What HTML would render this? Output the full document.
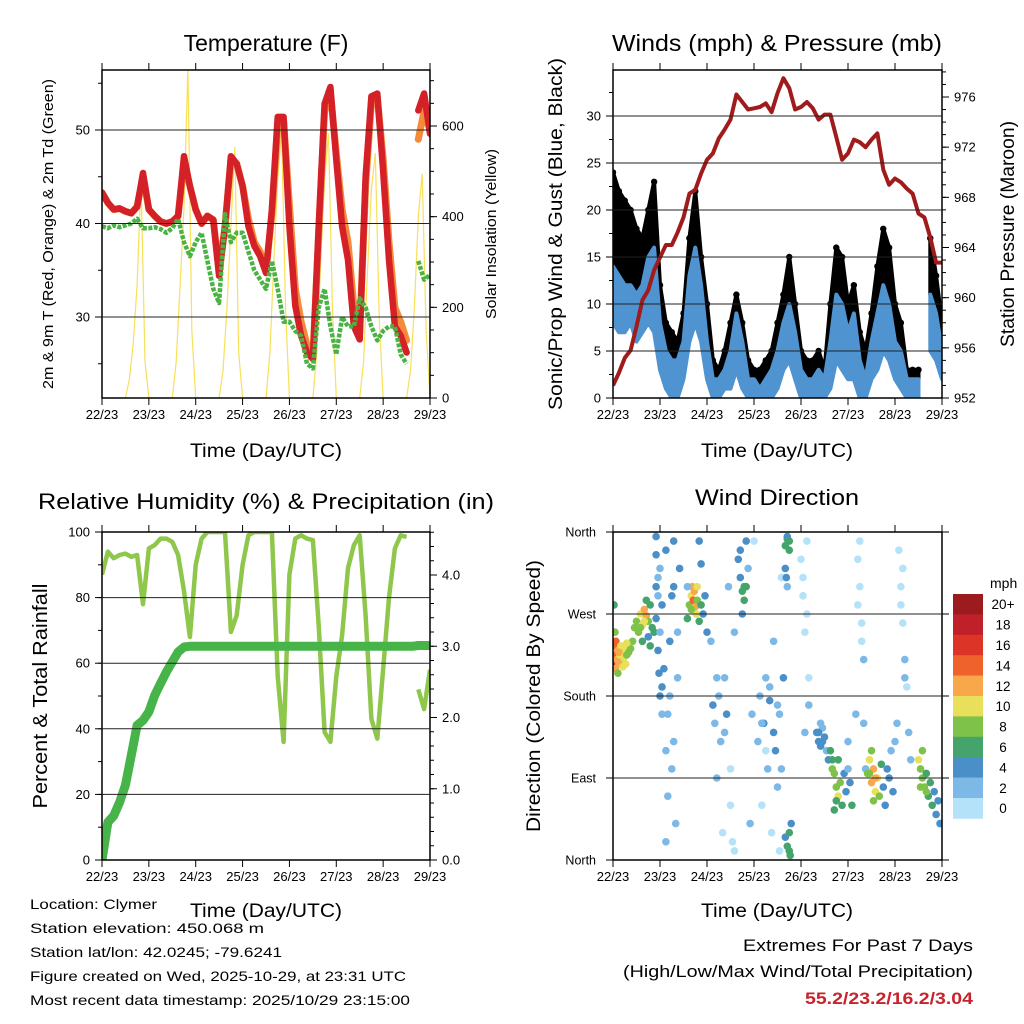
<!DOCTYPE html>
<html><head><meta charset="utf-8"><style>
html,body{margin:0;padding:0;background:#fff;}
svg{display:block;font-family:"Liberation Sans",sans-serif;}
</style></head><body>
<svg id="chart" width="1024" height="1024" viewBox="0 0 1024 1024" xmlns="http://www.w3.org/2000/svg">
<rect x="0" y="0" width="1024" height="1024" fill="#fff"/>
<defs>
<clipPath id="c1"><rect x="102" y="70" width="328" height="328"/></clipPath>
<clipPath id="c2"><rect x="613" y="70" width="329" height="328"/></clipPath>
<clipPath id="c3"><rect x="102" y="532" width="328" height="328"/></clipPath>
<clipPath id="c4"><rect x="613" y="532" width="329" height="328"/></clipPath>
</defs>
<g id="layer-marks"></g>
<g id="layer-axes"></g>
<text x="266" y="51" font-size="23" text-anchor="middle">Temperature (F)</text>
<text transform="translate(53,234) rotate(-90)" font-size="15" text-anchor="middle" textLength="310" lengthAdjust="spacingAndGlyphs">2m &amp; 9m T (Red, Orange) &amp; 2m Td (Green)</text>
<text transform="translate(496,234) rotate(-90)" font-size="15" text-anchor="middle" textLength="170" lengthAdjust="spacingAndGlyphs">Solar Insolation (Yellow)</text>
<text x="266" y="457" font-size="19" text-anchor="middle" textLength="152" lengthAdjust="spacingAndGlyphs">Time (Day/UTC)</text>
<text x="777" y="51" font-size="23" text-anchor="middle" textLength="330" lengthAdjust="spacingAndGlyphs">Winds (mph) &amp; Pressure (mb)</text>
<text transform="translate(562,234) rotate(-90)" font-size="19" text-anchor="middle" textLength="352" lengthAdjust="spacingAndGlyphs">Sonic/Prop Wind &amp; Gust (Blue, Black)</text>
<text transform="translate(1014,234) rotate(-90)" font-size="19" text-anchor="middle" textLength="226" lengthAdjust="spacingAndGlyphs">Station Pressure (Maroon)</text>
<text x="777" y="457" font-size="19" text-anchor="middle" textLength="152" lengthAdjust="spacingAndGlyphs">Time (Day/UTC)</text>
<text x="266" y="509" font-size="22" text-anchor="middle" textLength="456" lengthAdjust="spacingAndGlyphs">Relative Humidity (%) &amp; Precipitation (in)</text>
<text transform="translate(47,696) rotate(-90)" font-size="20" text-anchor="middle" textLength="225" lengthAdjust="spacingAndGlyphs">Percent &amp; Total Rainfall</text>
<text x="266" y="917" font-size="19" text-anchor="middle" textLength="152" lengthAdjust="spacingAndGlyphs">Time (Day/UTC)</text>
<text x="777" y="505" font-size="22" text-anchor="middle" textLength="164" lengthAdjust="spacingAndGlyphs">Wind Direction</text>
<text transform="translate(540,696) rotate(-90)" font-size="19" text-anchor="middle" textLength="272" lengthAdjust="spacingAndGlyphs">Direction (Colored By Speed)</text>
<text x="777" y="917" font-size="19" text-anchor="middle" textLength="152" lengthAdjust="spacingAndGlyphs">Time (Day/UTC)</text>
<text x="990" y="588" font-size="14">mph</text>
<g font-size="14">
<text x="30" y="909" textLength="127" lengthAdjust="spacingAndGlyphs">Location: Clymer</text>
<text x="30" y="933" textLength="234" lengthAdjust="spacingAndGlyphs">Station elevation: 450.068 m</text>
<text x="30" y="957" textLength="252" lengthAdjust="spacingAndGlyphs">Station lat/lon: 42.0245; -79.6241</text>
<text x="30" y="981" textLength="376" lengthAdjust="spacingAndGlyphs">Figure created on Wed, 2025-10-29, at 23:31 UTC</text>
<text x="30" y="1005" textLength="380" lengthAdjust="spacingAndGlyphs">Most recent data timestamp: 2025/10/29 23:15:00</text>
</g>
<text x="973" y="951" font-size="17" text-anchor="end" textLength="230" lengthAdjust="spacingAndGlyphs">Extremes For Past 7 Days</text>
<text x="973" y="977" font-size="17" text-anchor="end" textLength="350" lengthAdjust="spacingAndGlyphs">(High/Low/Max Wind/Total Precipitation)</text>
<text x="973" y="1004" font-size="17" font-weight="bold" fill="#c8232c" text-anchor="end" textLength="168" lengthAdjust="spacingAndGlyphs">55.2/23.2/16.2/3.04</text>
</svg>
<script>
// ---- data ----
const hours3 = [0,3,6,9,12,15,18,21,24,27,30,33,36,39,42,45,48,51,54,57,60,63,66,69,72,75,78,81,84,87,90,93,96,99,102,105,108,111,114,117,120,123,126,129,132,135,138,141,144,147,150,153,156,159,162,165,168];
const dayLabels = ["22/23","23/23","24/23","25/23","26/23","27/23","28/23","29/23"];
const tempRed = [43.3,42.2,41.5,41.6,41.3,41.1,41.8,45.4,41.5,40.8,40.2,40.0,40.2,40.8,47.2,44.0,41.5,40.0,40.8,40.4,34.4,39.7,47.2,46.4,44.0,39.7,37.6,36.5,34.7,41.5,51.4,51.4,39.7,31.2,28.0,26.2,25.5,39.7,52.8,54.6,46.8,39.7,36.1,29.0,27.6,45.0,53.6,53.9,45.7,36.1,29.0,28.0,26.2,null,52.1,53.9,49.6];
const tempOrange = [43.3,42.2,41.5,41.6,41.3,41.1,41.8,45.0,41.5,40.8,40.2,40.0,40.2,40.8,46.5,44.0,41.5,40.0,40.8,40.4,34.8,39.7,46.8,46.4,44.0,40.5,38.0,37.0,35.0,41.0,50.5,51.0,42.0,33.0,29.5,27.0,25.8,39.0,52.0,54.0,47.5,41.5,38.0,31.0,28.5,44.0,53.0,53.5,47.0,38.0,31.0,29.5,27.5,null,49.0,52.0,50.0];
const dewGreen = [39.7,39.5,39.8,39.6,39.8,40.0,40.5,39.5,39.5,39.6,39.4,39.0,39.5,40.5,38.0,36.5,38.0,39.0,36.0,33.0,31.5,41.0,38.0,39.0,39.0,37.0,35.0,34.0,33.0,36.0,33.0,29.5,29.5,28.5,28.0,25.0,24.5,31.0,33.0,29.0,26.0,30.0,29.0,29.0,32.0,31.0,29.0,27.5,28.5,29.0,29.0,26.0,25.0,null,36.0,34.0,34.5];
const hours2 = [0,2,4,6,8,10,12,14,16,18,20,22,24,26,28,30,32,34,36,38,40,42,44,46,48,50,52,54,56,58,60,62,64,66,68,70,72,74,76,78,80,82,84,86,88,90,92,94,96,98,100,102,104,106,108,110,112,114,116,118,120,122,124,126,128,130,132,134,136,138,140,142,144,146,148,150,152,154,156,158,160,162,164,166,168];
const solar = [0,0,0,0,0,0,0,40,120,250,480,80, 0,0,0,0,0,0,0,80,250,420,730,150, 0,0,0,0,0,0,0,60,200,380,554,100, 0,0,0,0,0,0,0,100,300,480,590,200, 0,0,0,0,0,0,0,100,300,480,584,200, 0,0,0,0,0,0,0,80,280,460,540,180, 0,0,0,0,0,0,0,60,200,400,495,150, 0];
const windHi = [14,13,12,12,11,12,15,16,8,5,4,4,6,13,16,12,6,2,2,3,5,9,6,2,2,1,2,3,5,8,10,7,3,2,2,3,2,6,11,10,7,9,4,2,6,9,12,10,6,5,2,2,2,null,11,9,5];
const windLo = [8,7,7,8,6,7,8,7,3,1,0,0,2,6,8,6,2,0,0,1,1,3,1,0,0,0,0,0,1,3,4,2,0,0,0,0,0,1,4,3,2,2,0,0,2,3,5,4,2,1,0,0,0,null,5,4,2];
const gustHi = [24,22,21,20,18,17,20,23,12,8,7,6,9,17,22,15,10,4,3,5,8,11,8,4,3,3,4,5,8,11,15,10,5,4,4,5,3,10,16,15,10,12,7,5,9,14,18,16,10,8,3,3,3,null,17,13,8];
const pressure = [953.0,954.0,955.2,955.8,957.7,959.8,960.6,962.2,963.2,964.2,964.2,965.2,966.4,968.3,968.6,969.9,971.0,971.5,972.7,973.4,974.2,976.2,975.6,975.0,975.1,975.2,975.5,974.8,976.3,977.5,976.7,975.0,975.2,975.6,975.1,974.2,974.6,974.6,972.8,971.0,971.5,972.6,972.4,972.0,972.6,973.1,970.2,969.0,969.5,969.2,968.7,968.3,966.7,966.4,964.8,962.8,962.8];
const relHum = [87,94,92,93,93.4,92.4,93,78,95,96,98,98,97,93,82,68,90,98,100,100,100,100,69.5,74.6,90,99,100,100,100,100,56,36,87,98,99,98,97.5,71.5,39,36,56,68.5,89,96,99,74.6,43,37,58,80,95,99,98.5,null,52,46,58];
const precip = [0,0.53,0.62,0.81,1.05,1.47,1.89,1.96,2.08,2.31,2.48,2.64,2.78,2.92,2.99,3.0,3.0,3.0,3.0,3.0,3.0,3.0,3.0,3.0,3.0,3.0,3.0,3.0,3.0,3.0,3.0,3.0,3.0,3.0,3.0,3.0,3.0,3.0,3.0,3.0,3.0,3.0,3.0,3.0,3.0,3.0,3.0,3.0,3.0,3.0,3.0,3.0,3.0,3.0,3.01,3.01,3.01];
// wind direction observations: [hour, direction deg, speed mph]
const windDirObs = [[0.2,225,15],[0.5,215,16],[0.8,235,14],[1.2,210,13],[1.5,240,15],[2,220,12],[2.5,230,13],[3,215,12],[3.5,225,11],[4,235,10],[4.5,218,12],[5,228,10],[5.5,222,11],[6,232,10],[6.5,215,10],[7,225,9],[1,250,8],[0.5,280,6],[2.5,205,9],[8,228,9],[9,232,9],[10,240,8],[3,228,13],[5,212,11],[7,238,10],
[11,255,8],[12,262,8],[13,250,9],[14,270,10],[15,258,11],[16,275,12],[17,268,13],[18,262,9],[19,280,7],[20,255,6],[15,240,6],[17,285,7],[19,235,6],[21,250,6],[18,245,5],[16,262,10],[14,255,9],
[22,265,4],[23,230,4],[23.5,205,4],[24,250,3],[25,190,4],[25,280,4],[26,210,4],[22,335,4],[22,355,4],[23,310,3],[24,320,2],[22,300,4],[23,290,3],[24,180,4],[25,160,3],
[27,20,2],[27,120,3],[28,70,2],[28,160,3],[29,180,2],[29,240,4],[30,100,3],[30,290,4],[31,130,3],[31,350,4],[32,40,3],[33,200,3],[34,320,4],[27,340,4],[31,300,4],[33,250,3],
[38,265,6],[39,280,8],[40,290,10],[40.5,300,12],[41,285,14],[41.5,295,13],[42,278,12],[42.5,270,10],[43,285,9],[44,262,7],[45,280,6],[46,270,5],[47,290,4],[48,250,4],[38,300,3],[44,350,4],[45,325,4],[40,275,8],[43,300,10],
[50,240,3],[52,150,3],[53,90,2],[54,180,2],[55,130,3],[56,30,1],[57,200,3],[58,160,4],[59,300,2],[60,100,1],[61,20,1],[62,250,2],[51,170,4],[53,200,3],[57,140,2],[60,60,1],[62,10,1],
[64,330,4],[65,310,4],[66,295,6],[67,285,7],[68,300,6],[66,270,5],[68,350,4],[69,320,3],[70,40,3],[71,160,2],[72,350,1],[65,340,4],[67,300,6],
[74,130,2],[75,180,3],[76,60,1],[77,150,4],[78,200,2],[79,100,3],[80,175,4],[81,30,1],[82,240,3],[83,120,4],[84,80,2],[85,160,3],[86,310,1],[87,200,4],[85,10,1],[76,150,2],[78,120,1],[80,190,3],[82,140,4],[84,170,3],[86,100,3],
[88,345,6],[89,352,6],[90,340,7],[89,355,5],[88,320,4],[88.5,310,4],[88,25,4],[89,15,6],[90,30,6],[90.5,5,6],[91,40,5],[89,300,2],[90,350,6],[90,10,6],
[96,330,1],[97,290,1],[98,250,1],[99,350,1],[100,200,1],[98,140,2],[100,170,3],[97,310,1],[99,270,1],
[104,140,4],[105,130,4],[106,125,4],[107,145,3],[108,135,4],[109,120,3],[106,150,3],[110,110,5],[105,140,4],[107,130,4],
[111,120,6],[112,110,7],[113,95,8],[114,80,9],[115,70,10],[116,85,8],[117,60,6],[118,95,4],[119,75,4],[120,100,3],[121,85,4],[122,60,6],[113,55,7],[115,110,7],[120,130,3],[112,100,8],[114,65,7],
[125,330,1],[126,300,1],[127,260,1],[128,220,2],[126,350,1],[128,150,2],[124,160,2],[129,100,3],[125,280,1],[127,240,1],
[130,95,8],[131,110,10],[132,85,12],[133,100,13],[134,75,11],[135,90,10],[136,70,9],[133,65,8],[137,105,6],[132,120,8],[131,95,9],[134,90,12],
[138,80,4],[139,60,4],[140,100,4],[141,90,5],[142,120,3],[143,75,4],[144,130,2],[145,150,2],
[146,340,1],[147,300,1],[148,260,1],[149,220,2],[150,190,1],[148,320,1],[151,140,2],[152,110,3],[147,280,1],[149,200,2],
[156,110,10],[157,100,9],[158,90,8],[159,80,8],[160,95,7],[161,70,6],[162,85,7],[163,60,6],[164,75,5],[165,50,4],[166,65,5],[167,40,5],[158,120,9],[157,80,9],[160,75,8]];
const speedBins = ["0","2","4","6","8","10","12","14","16","18","20+"];
const speedColors = ["#b4e2f8","#7db9e6","#4a8fc8","#45a46c","#7fc24a","#e8e05a","#f8a84a","#f0622b","#dc3427","#c0202a","#9b1b1e"];
const dirLabels = ["North","East","South","West","North"];

// ---- helpers ----
const NS = "http://www.w3.org/2000/svg";
const marks = document.getElementById('layer-marks');
const axes = document.getElementById('layer-axes');
function el(tag, attrs, parent){ const e=document.createElementNS(NS,tag); for(const k in attrs) e.setAttribute(k,attrs[k]); parent.appendChild(e); return e; }
function lin(d0,d1,r0,r1){ return v => r0 + (v-d0)/(d1-d0)*(r1-r0); }
function pathFrom(xs, ys, sx, sy){ let d='', pen=false; for(let i=0;i<xs.length;i++){ if(ys[i]===null){pen=false;continue;} d += (pen?'L':'M') + sx(xs[i]).toFixed(1)+','+sy(ys[i]).toFixed(1); pen=true; } return d; }
function bandPaths(xs, lo, hi, sx, sy){ const out=[]; let seg=[]; for(let i=0;i<=xs.length;i++){ if(i===xs.length||lo[i]===null||hi[i]===null){ if(seg.length>1){ let d='M'+seg.map(j=>sx(xs[j]).toFixed(1)+','+sy(hi[j]).toFixed(1)).join('L'); d+='L'+seg.slice().reverse().map(j=>sx(xs[j]).toFixed(1)+','+sy(lo[j]).toFixed(1)).join('L')+'Z'; out.push(d);} seg=[]; } else seg.push(i);} return out; }

function frame(P, name){
  const g = el('g',{},axes);
  
  
  const r = el('rect',{x:P.x0,y:P.y0,width:P.x1-P.x0,height:P.y1-P.y0,fill:'none',stroke:'#000','stroke-width':1.5},g);
  
  
  const sx = lin(0,168,P.x0,P.x1);
  for(let i=0;i<dayLabels.length;i++){
    const x = sx(i*24);
    el('line',{x1:x,x2:x,y1:P.y1,y2:P.y1+7,stroke:'#000','stroke-width':1},g);
    el('line',{x1:x,x2:x,y1:P.y0,y2:P.y0-7,stroke:'#000','stroke-width':1},g);
    const t = el('text',{x:x,y:P.y1+21,'font-size':13,'text-anchor':'middle'},g);
    
    
    t.textContent = dayLabels[i];
  }
  return g;
}
function leftAxis(g,P,sy,major,labelFmt,minorStep,lo,hi,grid){
  for(let v=lo; v<=hi+1e-9; v+=minorStep){ const y=sy(v); if(y<P.y0-0.5||y>P.y1+0.5) continue; el('line',{x1:P.x0-4,x2:P.x0,y1:y,y2:y,stroke:'#000','stroke-width':1},g); }
  major.forEach(v=>{ const y=sy(v);
    el('line',{x1:P.x0-7,x2:P.x0,y1:y,y2:y,stroke:'#000','stroke-width':1},g);
    if(grid && y>P.y0+1 && y<P.y1-1){ const gl=el('line',{x1:P.x0,x2:P.x1,y1:y,y2:y,stroke:'#222','stroke-width':1},g);   }
    const t=el('text',{x:P.x0-12,y:y+4.5,'font-size':13,'text-anchor':'end'},g);
    
    
    t.textContent=labelFmt(v); });
}
function rightAxis(g,P,sy,major,labelFmt,minorStep,lo,hi){
  for(let v=lo; v<=hi+1e-9; v+=minorStep){ const y=sy(v); if(y<P.y0-0.5||y>P.y1+0.5) continue; el('line',{x1:P.x1,x2:P.x1+4,y1:y,y2:y,stroke:'#000','stroke-width':1},g); }
  major.forEach(v=>{ const y=sy(v);
    el('line',{x1:P.x1,x2:P.x1+7,y1:y,y2:y,stroke:'#000','stroke-width':1},g);
    const t=el('text',{x:P.x1+12,y:y+4.5,'font-size':13,'text-anchor':'start'},g);
    
    
    t.textContent=labelFmt(v); });
}

// ---- Panel 1: Temperature ----
(function(){
  const P={x0:102,x1:430,y0:70,y1:398};
  const sx=lin(0,168,P.x0,P.x1), sy=lin(30,50,317,130), ss=lin(0,600,398,126);
  const g=el('g',{'clip-path':'url(#c1)'},marks);
  
  
  const s=el('path',{d:pathFrom(hours2,solar,sx,ss),fill:'none',stroke:'#f7e05a','stroke-width':1.2},g);
  
  
  const o=el('path',{d:pathFrom(hours3,tempOrange,sx,sy),fill:'none',stroke:'#f58a3a','stroke-width':7,'stroke-linejoin':'round','stroke-linecap':'round'},g);
  
  
  const r=el('path',{d:pathFrom(hours3,tempRed,sx,sy),fill:'none',stroke:'#d42027','stroke-width':6.5,'stroke-linejoin':'round','stroke-linecap':'round'},g);
  
  
  const d=el('path',{d:pathFrom(hours3,dewGreen,sx,sy),fill:'none',stroke:'#4ab343','stroke-width':4.5,'stroke-dasharray':'4 1.5','stroke-linejoin':'round'},g);
  
  
  const ag=frame(P,'temperature');
  leftAxis(ag,P,sy,[30,40,50],v=>String(v),5,20,55,true);
  rightAxis(ag,P,ss,[0,200,400,600],v=>String(v),50,0,700);
})();

// ---- Panel 2: Winds & Pressure ----
(function(){
  const P={x0:613,x1:942,y0:70,y1:398};
  const sx=lin(0,168,P.x0,P.x1), sy=lin(0,30,398,116), sp=lin(952,976,398,97);
  const g=el('g',{'clip-path':'url(#c2)'},marks);
  
  
  bandPaths(hours3,windHi,gustHi,sx,sy).forEach(dp=>{ const b=el('path',{d:dp,fill:'#000',stroke:'#000','stroke-width':4,'stroke-linejoin':'round'},g);
    
     });
  hours3.forEach((h,i)=>{ if(gustHi[i]===null) return; const c=el('circle',{cx:sx(h),cy:sy(gustHi[i]),r:3.2,fill:'#000'},g);
    
     });
  bandPaths(hours3,windLo,windHi,sx,sy).forEach(dp=>{ const b=el('path',{d:dp,fill:'#4f94d1',stroke:'#4f94d1','stroke-width':4,'stroke-linejoin':'round'},g);
    
     });
  const p=el('path',{d:pathFrom(hours3,pressure,sx,sp),fill:'none',stroke:'#a01c1c','stroke-width':4,'stroke-linejoin':'round'},g);
  
  
  const ag=frame(P,'winds');
  leftAxis(ag,P,sy,[0,5,10,15,20,25,30],v=>String(v),2.5,0,35,true);
  rightAxis(ag,P,sp,[952,956,960,964,968,972,976],v=>String(v),1,952,978);
})();

// ---- Panel 3: Humidity & Precip ----
(function(){
  const P={x0:102,x1:430,y0:532,y1:860};
  const sx=lin(0,168,P.x0,P.x1), sy=lin(0,100,860,532), sr=lin(0,4,860,575);
  const g=el('g',{'clip-path':'url(#c3)'},marks);
  
  
  const h=el('path',{d:pathFrom(hours3,relHum,sx,sy),fill:'none',stroke:'#8fc74c','stroke-width':4.5,'stroke-linejoin':'round'},g);
  
  
  const r=el('path',{d:pathFrom(hours3,precip,sx,sr),fill:'none',stroke:'#47b449','stroke-width':9,'stroke-linejoin':'round','stroke-linecap':'round'},g);
  
  
  const ag=frame(P,'humidity');
  leftAxis(ag,P,sy,[0,20,40,60,80,100],v=>String(v),10,0,100,true);
  rightAxis(ag,P,sr,[0,1,2,3,4],v=>v.toFixed(1),0.2,0,4.6);
})();

// ---- Panel 4: Wind direction ----
(function(){
  const P={x0:613,x1:942,y0:532,y1:860};
  const sx=lin(0,168,P.x0,P.x1), sy=lin(0,360,860,532);
  const g=el('g',{'clip-path':'url(#c4)'},marks);
  
  
  windDirObs.forEach(o=>{ const bin=Math.max(0,Math.min(10,Math.floor(o[2]/2)));
    const c=el('circle',{cx:sx(o[0]).toFixed(1),cy:sy(o[1]).toFixed(1),r:3.8,fill:speedColors[bin]},g);
    
     });
  const ag=frame(P,'wind-direction');
  [0,90,180,270,360].forEach((v,i)=>{ const y=sy(v);
    el('line',{x1:P.x0-7,x2:P.x0,y1:y,y2:y,stroke:'#000'},ag);
    el('line',{x1:P.x1,x2:P.x1+7,y1:y,y2:y,stroke:'#000'},ag);
    if(v>0&&v<360){ const gl=el('line',{x1:P.x0,x2:P.x1,y1:y,y2:y,stroke:'#222','stroke-width':1},ag);   }
    const t=el('text',{x:P.x0-17,y:y+4.5,'font-size':12.5,'text-anchor':'end'},ag);
    
    
    t.textContent=dirLabels[i]; });
  // colorbar
  const cb=el('g',{},axes);
  
  
  const by0=594, bh=20.4;
  for(let i=0;i<11;i++){ const k=10-i; const y=by0+i*bh;
    const r=el('rect',{x:953,y:y,width:30,height:bh+0.3,fill:speedColors[k]},cb);
    
    
    const t=el('text',{x:1003,y:y+bh/2+5,'font-size':13.5,'text-anchor':'middle'},cb);
    
    
    t.textContent=speedBins[k]; }
})();
</script>
</body></html>
